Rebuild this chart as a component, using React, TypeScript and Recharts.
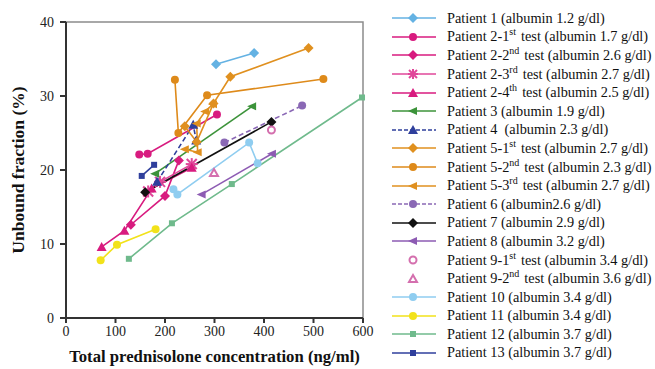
import { ComposedChart, Line, Scatter, XAxis, YAxis, ReferenceArea } from "recharts";

type Pt = [number, number];

// values: [prednisolone ng/ml, unbound %]
const patient1: Pt[] = [[303, 34.3], [380, 35.8]];
const patient2a: Pt[] = [[148, 22.1], [165, 22.2], [305, 27.5]];
const patient2b: Pt[] = [[131, 12.6], [200, 16.5], [228, 21.3]];
const patient2c: Pt[] = [[166, 17.1], [190, 18.4], [254, 20.8]];
const patient2d: Pt[] = [[72, 9.6], [118, 11.8], [173, 17.5], [254, 20.3]];
const patient3: Pt[] = [[180, 19.5], [376, 28.6]];
const patient4: Pt[] = [[184, 18.4], [257, 26.1], [263, 24.0]];
const patient5a: Pt[] = [[240, 25.9], [264, 23.8], [298, 29.0], [332, 32.6], [490, 36.5]];
const patient5b: Pt[] = [[220, 32.2], [227, 25.0], [285, 30.1], [520, 32.3]];
const patient5c: Pt[] = [[240, 22.8], [266, 22.4], [264, 26.3], [281, 27.9], [297, 28.9]];
const patient6: Pt[] = [[320, 23.7], [477, 28.7]];
const patient7: Pt[] = [[160, 17.0], [415, 26.5]];
const patient8: Pt[] = [[274, 16.7], [416, 22.2]];
const patient9a: Pt[] = [[415, 25.4]];
const patient9b: Pt[] = [[299, 19.6]];
const patient10: Pt[] = [[217, 17.4], [225, 16.7], [370, 23.7], [387, 20.9]];
const patient11: Pt[] = [[70, 7.8], [103, 9.9], [181, 12.0]];
const patient12: Pt[] = [[127, 8.0], [214, 12.8], [335, 18.1], [598, 29.8]];
const patient13: Pt[] = [[153, 19.2], [178, 20.7]];

const xTicks = [0, 100, 200, 300, 400, 500, 600];
const yTicks = [0, 10, 20, 30, 40];

type Shape = "circle" | "diamond" | "star" | "triangle" | "left" | "square" | "ocircle" | "otriangle";

interface Series {
  name: string;
  sup?: string;
  rest?: string;
  pts: Pt[];
  color: string;
  shape: Shape;
  dashed?: boolean;
  noLine?: boolean;
}

const series: Series[] = [
  { name: "Patient 1 (albumin 1.2 g/dl)", pts: patient1, color: "#64b2e3", shape: "diamond" },
  { name: "Patient 2-1", sup: "st", rest: "test (albumin 1.7 g/dl)", pts: patient2a, color: "#d81b7f", shape: "circle" },
  { name: "Patient 2-2", sup: "nd", rest: "test (albumin 2.6 g/dl)", pts: patient2b, color: "#d81b7f", shape: "diamond" },
  { name: "Patient 2-3", sup: "rd", rest: "test (albumin 2.7 g/dl)", pts: patient2c, color: "#e0479a", shape: "star" },
  { name: "Patient 2-4", sup: "th", rest: "test (albumin 2.5 g/dl)", pts: patient2d, color: "#d81b7f", shape: "triangle" },
  { name: "Patient 3 (albumin 1.9 g/dl)", pts: patient3, color: "#3c933a", shape: "left" },
  { name: "Patient 4  (albumin 2.3 g/dl)", pts: patient4, color: "#2f3f9c", shape: "triangle", dashed: true },
  { name: "Patient 5-1", sup: "st", rest: "test (albumin 2.7 g/dl)", pts: patient5a, color: "#e0901f", shape: "diamond" },
  { name: "Patient 5-2", sup: "nd", rest: "test (albumin 2.3 g/dl)", pts: patient5b, color: "#de8a1a", shape: "circle" },
  { name: "Patient 5-3", sup: "rd", rest: "test (albumin 2.7 g/dl)", pts: patient5c, color: "#e0901f", shape: "left" },
  { name: "Patient 6 (albumin2.6 g/dl)", pts: patient6, color: "#8a68b5", shape: "circle", dashed: true },
  { name: "Patient 7 (albumin 2.9 g/dl)", pts: patient7, color: "#111111", shape: "diamond" },
  { name: "Patient 8 (albumin 3.2 g/dl)", pts: patient8, color: "#8d5bb3", shape: "left" },
  { name: "Patient 9-1", sup: "st", rest: "test (albumin 3.4 g/dl)", pts: patient9a, color: "#d46fae", shape: "ocircle", noLine: true },
  { name: "Patient 9-2", sup: "nd", rest: "test (albumin 3.6 g/dl)", pts: patient9b, color: "#d46fae", shape: "otriangle", noLine: true },
  { name: "Patient 10 (albumin 3.4 g/dl)", pts: patient10, color: "#8fcdf0", shape: "circle" },
  { name: "Patient 11 (albumin 3.4 g/dl)", pts: patient11, color: "#f2e21a", shape: "circle" },
  { name: "Patient 12 (albumin 3.7 g/dl)", pts: patient12, color: "#6fba8c", shape: "square" },
  { name: "Patient 13 (albumin 3.7 g/dl)", pts: patient13, color: "#2f3f9c", shape: "square" },
];

function Marker({ cx, cy, shape, color, r = 4 }: { cx: number; cy: number; shape: Shape; color: string; r?: number }) {
  if (cx == null || cy == null) return null;
  switch (shape) {
    case "circle":
      return <circle cx={cx} cy={cy} r={r} fill={color} />;
    case "diamond":
      return <polygon points={`${cx},${cy - r - 1} ${cx + r + 1},${cy} ${cx},${cy + r + 1} ${cx - r - 1},${cy}`} fill={color} />;
    case "triangle":
      return <polygon points={`${cx},${cy - r - 1} ${cx + r + 1},${cy + r} ${cx - r - 1},${cy + r}`} fill={color} />;
    case "left":
      return <polygon points={`${cx - r - 1},${cy} ${cx + r},${cy - r} ${cx + r},${cy + r}`} fill={color} />;
    case "square":
      return <rect x={cx - r + 1} y={cy - r + 1} width={2 * r - 2} height={2 * r - 2} fill={color} />;
    case "star":
      return (
        <g stroke={color} strokeWidth={2}>
          <line x1={cx - r - 1} y1={cy - r - 1} x2={cx + r + 1} y2={cy + r + 1} />
          <line x1={cx - r - 1} y1={cy + r + 1} x2={cx + r + 1} y2={cy - r - 1} />
          <line x1={cx} y1={cy - r - 2} x2={cx} y2={cy + r + 2} />
          <line x1={cx - r - 2} y1={cy} x2={cx + r + 2} y2={cy} />
        </g>
      );
    case "ocircle":
      return <circle cx={cx} cy={cy} r={r - 0.5} fill="#fff" stroke={color} strokeWidth={2} />;
    case "otriangle":
      return <polygon points={`${cx},${cy - r} ${cx + r},${cy + r - 1} ${cx - r},${cy + r - 1}`} fill="#fff" stroke={color} strokeWidth={2} />;
  }
  return null;
}

const dotFor = (s: Series) => (p: any) => <Marker key={`${s.name}-${p.index}`} cx={p.cx} cy={p.cy} shape={s.shape} color={s.color} />;

const serif = "'Liberation Serif', 'Times New Roman', serif";

function LegendBox() {
  return (
    <div style={{ position: "absolute", left: 388, top: 9, fontFamily: serif, fontSize: 14.3, color: "#111" }}>
      {series.map((s) => (
        <div key={s.name} style={{ height: 18.6, display: "flex", alignItems: "center", whiteSpace: "pre" }}>
          <svg width={52} height={14} style={{ flex: "none" }}>
            {!s.noLine && (
              <line x1={4} y1={7} x2={48} y2={7} stroke={s.color} strokeWidth={1.5} strokeDasharray={s.dashed ? "4 2" : undefined} />
            )}
            <Marker cx={25} cy={7} shape={s.shape} color={s.color} r={s.shape === "star" ? 3 : 4} />
          </svg>
          <span style={{ marginLeft: 7 }}>
            {s.name}
            {s.sup && <sup style={{ fontSize: 10, lineHeight: 0, verticalAlign: "6px", marginRight: 5 }}>{s.sup}</sup>}
            {s.rest}
          </span>
        </div>
      ))}
    </div>
  );
}

export default function App() {
  return (
    <div style={{ position: "absolute", left: 0, top: 0, width: 655, height: 369, background: "#fff" }}>
      <ComposedChart width={655} height={369} margin={{ top: 22, right: 292, bottom: 1, left: 13 }}>
        <ReferenceArea x1={0} x2={600} y1={0} y2={40} fill="none" stroke="#8c8c8c" strokeWidth={1.5} ifOverflow="visible" />
        <XAxis
          type="number"
          dataKey="x"
          domain={[0, 600]}
          ticks={xTicks}
          height={50}
          allowDuplicatedCategory={false}
          stroke="#333"
          strokeWidth={2}
          tickSize={5}
          tickMargin={3}
          tick={{ fontFamily: serif, fontSize: 14, fill: "#222" }}
          label={{ value: "Total prednisolone concentration (ng/ml)", position: "insideBottom", offset: 6, style: { fontFamily: serif, fontSize: 16.7, fontWeight: "bold", fill: "#111" } }}
        />
        <YAxis
          type="number"
          dataKey="y"
          domain={[0, 40]}
          ticks={yTicks}
          width={53}
          stroke="#333"
          strokeWidth={2}
          tickSize={6}
          tickMargin={6}
          tick={{ fontFamily: serif, fontSize: 14, fill: "#222" }}
          label={{ value: "Unbound fraction (%)", angle: -90, position: "insideLeft", offset: 5, style: { textAnchor: "middle", fontFamily: serif, fontSize: 17.5, fontWeight: "bold", fill: "#111" } }}
        />
        {series.map((s) =>
          s.noLine ? (
            <Scatter
              key={s.name}
              data={s.pts.map(([x, y]) => ({ x, y }))}
              dataKey="y"
              isAnimationActive={false}
              shape={(p: any) => <Marker cx={p.cx} cy={p.cy} shape={s.shape} color={s.color} />}
            />
          ) : (
            <Line
              key={s.name}
              data={s.pts.map(([x, y]) => ({ x, y }))}
              dataKey="y"
              type="linear"
              stroke={s.color}
              strokeWidth={1.6}
              strokeDasharray={s.dashed ? "5 3" : undefined}
              dot={dotFor(s)}
              activeDot={false}
              isAnimationActive={false}
            />
          )
        )}
      </ComposedChart>
      <LegendBox />
    </div>
  );
}
